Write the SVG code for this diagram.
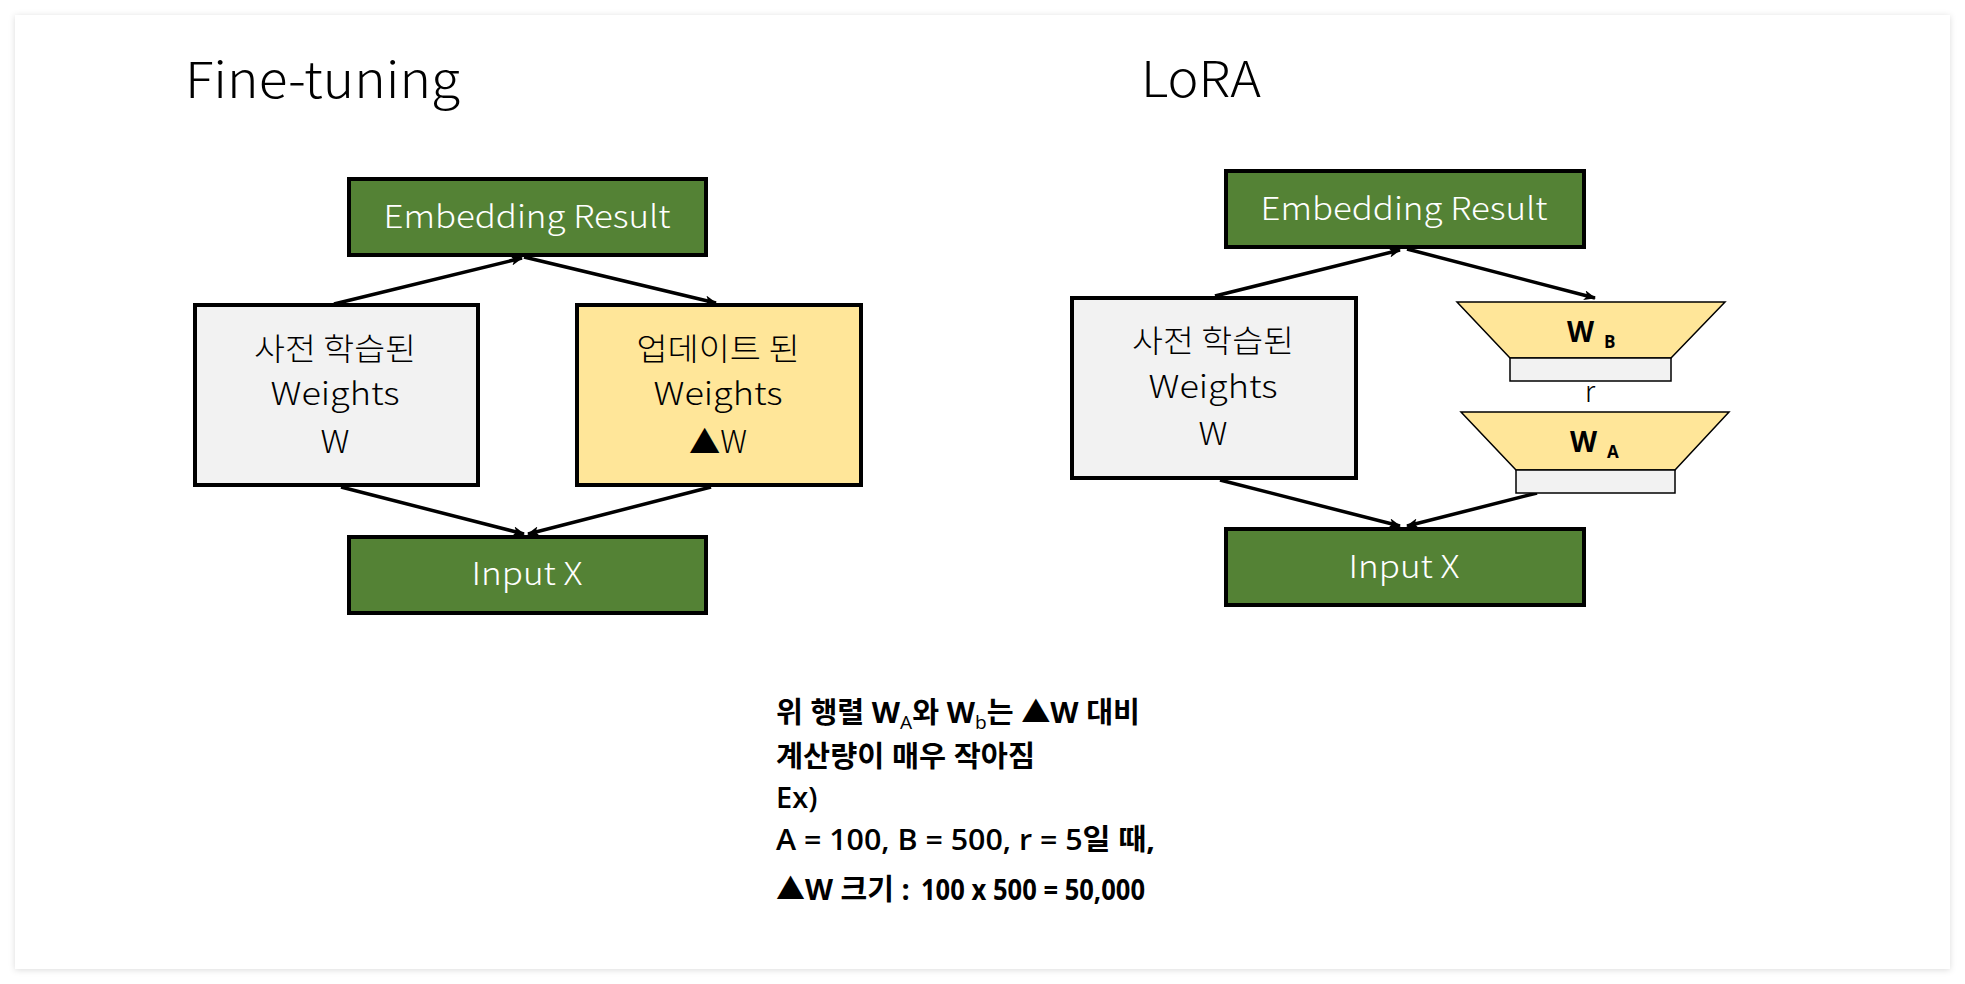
<svg xmlns="http://www.w3.org/2000/svg" width="1965" height="984" viewBox="0 0 1965 984">
<defs>
<filter id="sh" x="-5%" y="-5%" width="110%" height="110%"><feDropShadow dx="0" dy="1" stdDeviation="3" flood-color="#000" flood-opacity="0.14"/></filter>
<marker id="ah" viewBox="0 0 12 10" refX="11" refY="5" markerWidth="12" markerHeight="10" markerUnits="userSpaceOnUse" orient="auto"><path d="M0,0 L12,5 L0,10 L3,5 Z" fill="#000"/></marker>
<style>
.green{fill:#548235;stroke:#000;stroke-width:4}
.grey{fill:#F2F2F2;stroke:#000;stroke-width:4}
.yel{fill:#FFE699;stroke:#000;stroke-width:4}
.trap{fill:#FFE699;stroke:#000;stroke-width:1.5}
.bar{fill:#F2F2F2;stroke:#000;stroke-width:1.5}
.lbl{font-family:"Noto Sans CJK KR","Noto Sans",sans-serif;font-weight:300;font-size:31px;text-anchor:middle}
.wt{fill:#fff}
.title{font-family:"Noto Sans CJK KR","Noto Sans",sans-serif;font-weight:300;font-size:50px}
.note{font-family:"Open Sans","Noto Sans CJK KR",sans-serif;font-size:29px;fill:#000}
.b{font-weight:bold}
.wl{font-family:"Open Sans","Noto Sans CJK KR",sans-serif;font-weight:bold}
.conn line{stroke:#000;stroke-width:3.5;marker-end:url(#ah)}
</style>
</defs>
<rect x="0" y="0" width="1965" height="984" fill="#fff"/>
<rect x="15" y="15" width="1935" height="954" fill="#fff" filter="url(#sh)"/>

<text class="title" x="185" y="98" textLength="275" lengthAdjust="spacingAndGlyphs">Fine-tuning</text>
<text class="title" x="1141" y="97" textLength="120" lengthAdjust="spacingAndGlyphs">LoRA</text>

<g class="conn">
<line x1="334" y1="304" x2="522" y2="258"/>
<line x1="524" y1="257" x2="716" y2="303"/>
<line x1="341" y1="487" x2="524" y2="534"/>
<line x1="711" y1="487" x2="528" y2="534"/>
<line x1="1215" y1="296" x2="1400" y2="250"/>
<line x1="1407" y1="249" x2="1595" y2="298"/>
<line x1="1220" y1="480" x2="1400" y2="526"/>
<line x1="1537" y1="493" x2="1407" y2="526"/>
</g>

<g id="ft-embedding">
<rect class="green" x="349" y="179" width="357" height="76"/>
<text class="lbl wt" x="527" y="228" textLength="287" lengthAdjust="spacingAndGlyphs">Embedding Result</text>
</g>
<g id="ft-pretrained">
<rect class="grey" x="195" y="305" width="283" height="180"/>
<text class="lbl" x="335" y="360" textLength="162" lengthAdjust="spacingAndGlyphs">사전 학습된</text>
<text class="lbl" x="335" y="405" textLength="129" lengthAdjust="spacingAndGlyphs">Weights</text>
<text class="lbl" x="335" y="453" textLength="29" lengthAdjust="spacingAndGlyphs">W</text>
</g>
<g id="ft-updated">
<rect class="yel" x="577" y="305" width="284" height="180"/>
<text class="lbl" x="718" y="360" textLength="163" lengthAdjust="spacingAndGlyphs">업데이트 된</text>
<text class="lbl" x="718" y="405" textLength="129" lengthAdjust="spacingAndGlyphs">Weights</text>
<text class="lbl" x="718" y="453" textLength="58" lengthAdjust="spacingAndGlyphs">▲W</text>
</g>
<g id="ft-input">
<rect class="green" x="349" y="537" width="357" height="76"/>
<text class="lbl wt" x="527" y="585" textLength="111" lengthAdjust="spacingAndGlyphs">Input X</text>
</g>

<g id="lora-embedding">
<rect class="green" x="1226" y="171" width="358" height="76"/>
<text class="lbl wt" x="1404" y="220" textLength="287" lengthAdjust="spacingAndGlyphs">Embedding Result</text>
</g>
<g id="lora-pretrained">
<rect class="grey" x="1072" y="298" width="284" height="180"/>
<text class="lbl" x="1213" y="352" textLength="162" lengthAdjust="spacingAndGlyphs">사전 학습된</text>
<text class="lbl" x="1213" y="398" textLength="129" lengthAdjust="spacingAndGlyphs">Weights</text>
<text class="lbl" x="1213" y="445" textLength="29" lengthAdjust="spacingAndGlyphs">W</text>
</g>
<g id="lora-wb">
<polygon class="trap" points="1457,302 1725,302 1671,358 1510,358"/>
<rect class="bar" x="1510" y="358" width="161" height="23"/>
<text class="wl" x="1567" y="342" font-size="28">W</text>
<text class="wl" x="1604" y="348" font-size="17">B</text>
</g>
<text x="1590" y="402" font-family="Noto Sans CJK KR, sans-serif" font-weight="300" font-size="29" text-anchor="middle">r</text>
<g id="lora-wa">
<polygon class="trap" points="1461,412 1729,412 1675,470 1516,470"/>
<rect class="bar" x="1516" y="470" width="159" height="23"/>
<text class="wl" x="1570" y="452" font-size="28">W</text>
<text class="wl" x="1607" y="458" font-size="17">A</text>
</g>
<g id="lora-input">
<rect class="green" x="1226" y="529" width="358" height="76"/>
<text class="lbl wt" x="1404" y="578" textLength="111" lengthAdjust="spacingAndGlyphs">Input X</text>
</g>

<g id="note">
<text class="note" x="776" y="723" textLength="364" lengthAdjust="spacingAndGlyphs"><tspan class="b">위 행렬 W</tspan><tspan font-size="19" dy="6">A</tspan><tspan class="b" dy="-6">와 W</tspan><tspan font-size="19" dy="6">b</tspan><tspan class="b" dy="-6">는 ▲W 대비</tspan></text>
<text class="note b" x="776" y="767" textLength="259" lengthAdjust="spacingAndGlyphs">계산량이 매우 작아짐</text>
<text class="note" x="776" y="808" font-weight="600">Ex)</text>
<text class="note" x="776" y="850" textLength="379" lengthAdjust="spacingAndGlyphs"><tspan font-weight="600">A = 100, B = 500, r = 5</tspan><tspan class="b">일 때,</tspan></text>
<text class="note b" x="776" y="900">▲W 크기 :</text>
<text class="note b" x="921" y="900" font-size="23" textLength="224" lengthAdjust="spacingAndGlyphs">100 x 500 = 50,000</text>
</g>
</svg>
